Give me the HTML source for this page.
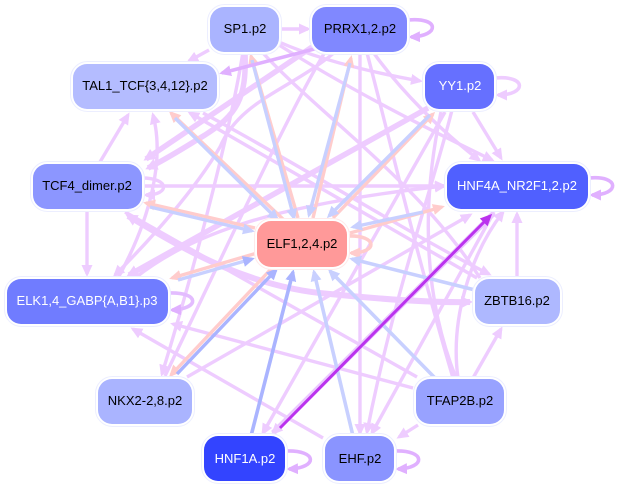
<!DOCTYPE html>
<html><head><meta charset="utf-8"><style>
html,body{margin:0;padding:0;background:#fff}
svg{display:block}
text{font-family:"Liberation Sans",sans-serif;font-size:13px;text-anchor:middle;fill:#000}
.w{fill:#fff}
.p path{fill:none;stroke:#eeccff;stroke-width:3.4}
</style></head><body>
<svg width="619" height="489" viewBox="0 0 619 489" xmlns="http://www.w3.org/2000/svg">
<defs>
<marker id="a" markerUnits="userSpaceOnUse" markerWidth="14" markerHeight="12" refX="9" refY="6" orient="auto"><path d="M0,0.5L12,6L0,11.5Z" fill="#eeccff"/></marker>
<marker id="A" markerUnits="userSpaceOnUse" markerWidth="15" markerHeight="14" refX="9" refY="7" orient="auto-start-reverse"><path d="M0,1L12,7L0,13Z" fill="#eeccff"/></marker>
<marker id="b" markerUnits="userSpaceOnUse" markerWidth="14" markerHeight="12" refX="9" refY="6" orient="auto"><path d="M0,0.5L12,6L0,11.5Z" fill="#c8d0ff"/></marker>
<marker id="c" markerUnits="userSpaceOnUse" markerWidth="14" markerHeight="12" refX="9" refY="6" orient="auto"><path d="M0,0.5L12,6L0,11.5Z" fill="#aab4ff"/></marker>
<marker id="s" markerUnits="userSpaceOnUse" markerWidth="14" markerHeight="12" refX="9" refY="6" orient="auto"><path d="M0,0.5L12,6L0,11.5Z" fill="#ffcccc"/></marker>
<marker id="v" markerUnits="userSpaceOnUse" markerWidth="14" markerHeight="12" refX="9" refY="6" orient="auto"><path d="M0,0.5L12,6L0,11.5Z" fill="#bb33ee"/></marker>
<marker id="m" markerUnits="userSpaceOnUse" markerWidth="14" markerHeight="12" refX="9" refY="6" orient="auto"><path d="M0,0.5L12,6L0,11.5Z" fill="#e0b0ff"/></marker>
</defs>

<g class="p">
<path d="M280,29L308,29" marker-end="url(#a)"/>
<path d="M209,50L189,61" marker-end="url(#a)"/>
<path d="M245,52C247,100 236,115 205,135C185,147 165,160 148,168" style="stroke-width:5.5" marker-end="url(#A)"/>
<path d="M312,47L146,159" style="stroke-width:5.5" marker-end="url(#A)"/>
<path d="M100,162L128,115" marker-end="url(#a)"/>
<path d="M87,210L87,274" marker-end="url(#a)"/>
<path d="M142,186L444,186" marker-end="url(#a)"/>
<path d="M142,178C170,178 170,195 146,195" marker-end="url(#a)"/>
<path d="M128,216C170,240 240,287 330,294C380,299 430,303 470,302" style="stroke-width:6" marker-start="url(#A)" marker-end="url(#A)"/>
<path d="M428,108L129,275" style="stroke-width:5.5" marker-end="url(#A)"/>
<path d="M335,52C290,90 240,100 220,147C195,190 150,240 115,275" marker-end="url(#a)"/>
<path d="M118,278C150,220 165,160 153,115" marker-end="url(#a)"/>
<path d="M135,278C190,235 270,205 444,186" marker-end="url(#a)"/>
<path d="M477,278L190,113" marker-end="url(#a)"/>
<path d="M203,113C300,165 420,240 489,274" marker-end="url(#a)"/>
<path d="M279,45C350,90 430,130 492,160" marker-end="url(#a)"/>
<path d="M373,52C400,90 440,130 479,160" marker-end="url(#a)"/>
<path d="M279,42C320,60 370,72 420,81" marker-end="url(#a)"/>
<path d="M473,112L501,158" marker-end="url(#a)"/>
<path d="M360,52L360,433" marker-end="url(#a)"/>
<path d="M367,53C385,120 415,250 453,378"/>
<path d="M262,52C320,115 420,183 480,278"/>
<path d="M445,112L263,433" marker-end="url(#a)"/>
<path d="M452,110C432,190 395,290 367,432" marker-end="url(#a)"/>
<path d="M441,112C420,210 425,300 456,378"/>
<path d="M458,378C450,320 470,255 503,212" marker-end="url(#a)"/>
<path d="M494,212L372,433" marker-end="url(#a)"/>
<path d="M473,378L501,329" marker-end="url(#a)"/>
<path d="M418,425L399,437" marker-end="url(#a)"/>
<path d="M517,278L517,214" marker-end="url(#a)"/>
<path d="M243,52C232,120 200,250 162,374" marker-end="url(#a)"/>
<path d="M325,52C290,110 230,240 165,376"/>
<path d="M187,377L470,215" marker-end="url(#a)"/>
<path d="M413,388L173,324" marker-end="url(#a)"/>
<path d="M323,438L133,329" marker-end="url(#a)"/>
<path d="M417,377L125,212"/>
<path d="M494,213L273,433" style="stroke-width:5.5;stroke:#ebc8ff" marker-end="url(#a)"/>
</g>

<g fill="none" stroke-width="3.4">
<path d="M285,221L171,113" stroke="#ffcccc" marker-end="url(#s)"/>
<path d="M175,118L277,219" stroke="#c8d0ff" marker-end="url(#b)"/>
<path d="M298,218L251,56" stroke="#ffcccc" marker-end="url(#s)"/>
<path d="M252,60L294,218" stroke="#c8d0ff" marker-end="url(#b)"/>
<path d="M313,218L351,58" stroke="#ffcccc" marker-end="url(#s)"/>
<path d="M350,63L309,215" stroke="#c8d0ff" marker-end="url(#b)"/>
<path d="M333,218L433,114" stroke="#ffcccc" marker-end="url(#s)"/>
<path d="M430,115L329,216" stroke="#c8d0ff" marker-end="url(#b)"/>
<path d="M350,233L442,207" stroke="#ffcccc" marker-end="url(#s)"/>
<path d="M423,212L353,227" stroke="#c8d0ff" marker-end="url(#b)"/>
<path d="M255,228L146,203" stroke="#ffcccc" marker-end="url(#s)"/>
<path d="M150,207L252,231" stroke="#c8d0ff" marker-end="url(#b)"/>
<path d="M257,253L172,278" stroke="#ffcccc" marker-end="url(#s)"/>
<path d="M178,280L252,259" stroke="#c8d0ff" marker-end="url(#c)"/>
<path d="M272,268L171,375" stroke="#ffcccc" marker-end="url(#s)"/>
<path d="M177,374L276,270" stroke="#aab4ff" marker-end="url(#c)"/>
</g>

<g fill="none" stroke-width="3.6">
<path d="M345,41L222,73" stroke="#e0b0ff" marker-end="url(#m)"/>
<path d="M408,20C440,17 440,36 411,37" stroke="#e0b0ff" marker-end="url(#m)"/>
<path d="M495,78C527,75 527,95 498,95" stroke="#eeccff" marker-end="url(#a)"/>
<path d="M589,178C620,175 620,195 592,195" stroke="#e0b0ff" marker-end="url(#m)"/>
<path d="M169,293C200,292 200,309 172,310" stroke="#e3bcff" marker-end="url(#m)"/>
<path d="M286,451C318,450 318,468 289,469" stroke="#e0b0ff" marker-end="url(#m)"/>
<path d="M395,451C426,450 426,468 398,469" stroke="#e0b0ff" marker-end="url(#m)"/>
<path d="M348,236C378,235 378,253 351,253" stroke="#ffcccc" marker-end="url(#s)"/>
<path d="M251,436L293,272" stroke="#aab4ff" marker-end="url(#c)"/>
<path d="M353,436L314,272" stroke="#c8d0ff" marker-end="url(#b)"/>
<path d="M435,378L330,271" stroke="#c8d0ff" marker-end="url(#b)"/>
<path d="M475,290L352,259" stroke="#c8d0ff" marker-end="url(#b)"/>
<path d="M280,428L490,216" stroke="#bb33ee" stroke-width="3" marker-end="url(#v)"/>
</g>

<g stroke="#eceeff" stroke-width="1" fill="#fff">
<rect x="207.5" y="4.5" width="74" height="50" rx="17"/>
<rect x="309.5" y="4.5" width="100" height="50" rx="17"/>
<rect x="70.5" y="61.5" width="149" height="50" rx="17"/>
<rect x="422.5" y="61.5" width="74" height="50" rx="17"/>
<rect x="30.5" y="161.5" width="114" height="50" rx="17"/>
<rect x="444.5" y="161.5" width="146" height="50" rx="17"/>
<rect x="254.5" y="218.5" width="95" height="51" rx="17" stroke="#ffeaea"/>
<rect x="4.5" y="276.5" width="166" height="50" rx="17"/>
<rect x="472.5" y="276.5" width="90" height="50" rx="17"/>
<rect x="95.5" y="376.5" width="99" height="50" rx="17"/>
<rect x="413.5" y="376.5" width="93" height="50" rx="17"/>
<rect x="201.5" y="433.5" width="86" height="50" rx="17"/>
<rect x="322.5" y="433.5" width="74" height="50" rx="17"/>
</g>
<rect x="210" y="7" width="69" height="45" rx="14" fill="#aab4ff"/>
<rect x="312" y="7" width="95" height="45" rx="14" fill="#8088ff"/>
<rect x="73" y="64" width="144" height="45" rx="14" fill="#b4bcff"/>
<rect x="425" y="64" width="69" height="45" rx="14" fill="#6670ff"/>
<rect x="33" y="164" width="109" height="45" rx="14" fill="#8c96ff"/>
<rect x="447" y="164" width="141" height="45" rx="14" fill="#5060ff"/>
<rect x="257" y="221" width="90" height="46" rx="14" fill="#ff9999"/>
<rect x="7" y="279" width="161" height="45" rx="14" fill="#707cff"/>
<rect x="475" y="279" width="85" height="45" rx="14" fill="#aeb8ff"/>
<rect x="98" y="379" width="94" height="45" rx="14" fill="#aab4ff"/>
<rect x="416" y="379" width="88" height="45" rx="14" fill="#98a2ff"/>
<rect x="204" y="436" width="81" height="45" rx="14" fill="#3344ff"/>
<rect x="325" y="436" width="69" height="45" rx="14" fill="#8a94ff"/>

<text x="245" y="33">SP1.p2</text>
<text x="360" y="33">PRRX1,2.p2</text>
<text x="145" y="90">TAL1_TCF{3,4,12}.p2</text>
<text x="460" y="90" class="w">YY1.p2</text>
<text x="87" y="190">TCF4_dimer.p2</text>
<text x="517" y="190" class="w">HNF4A_NR2F1,2.p2</text>
<text x="302" y="248">ELF1,2,4.p2</text>
<text x="87" y="305" class="w">ELK1,4_GABP{A,B1}.p3</text>
<text x="517" y="305">ZBTB16.p2</text>
<text x="145" y="405">NKX2-2,8.p2</text>
<text x="460" y="405">TFAP2B.p2</text>
<text x="245" y="463" class="w">HNF1A.p2</text>
<text x="360" y="463">EHF.p2</text>
</svg>
</body></html>
